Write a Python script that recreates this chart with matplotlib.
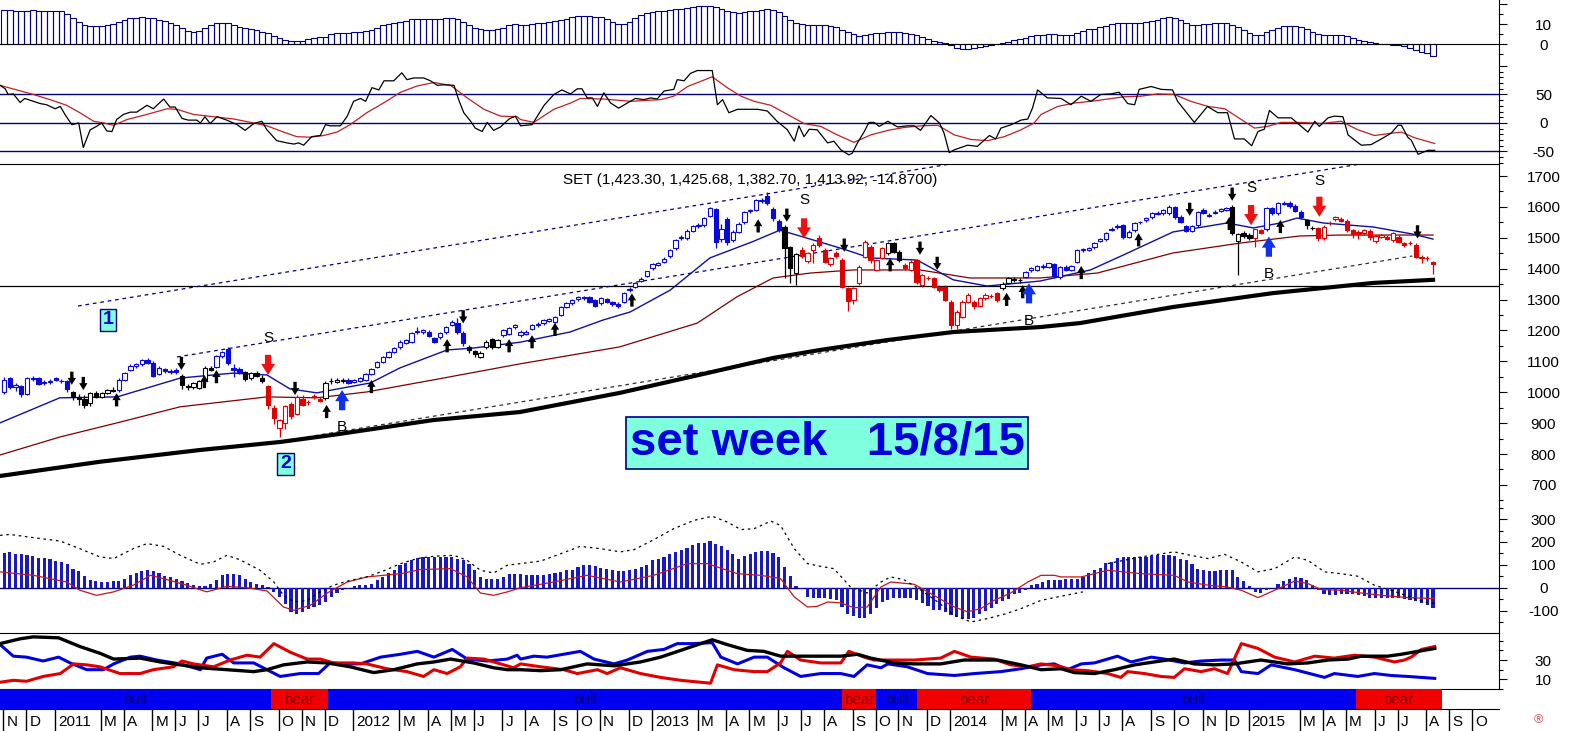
import numpy as np
import pandas as pd
import matplotlib
matplotlib.use("Agg")
import matplotlib.pyplot as plt

# ---------------- weekly SET index, Fri 5 Nov 2010 .. Fri 14 Aug 2015 ----------------
start_date = "2010-11-05"

opens = [1000,1045,1018,1020,995,1045,1046,1030,1032,1045,
         1038,1036,1002,986,977,964,999,985,997,1008,
         1006,1040,1072,1086,1090,1105,1094,1060,1074,1068,
         1072,1052,1020,1018,1014,1036,1078,1082,1116,1140,
         1078,1075,1064,1045,1062,1046,1020,950,885,900,
         963,930,978,968,988,978,980,1036,1034,1038,
         1041,1034,1038,1041,1059,1083,1099,1115,1131,1145,
         1160,1164,1194,1196,1196,1175,1178,1196,1218,1224,
         1193,1148,1132,1115,1145,1172,1148,1185,1190,1210,
         1185,1190,1204,1218,1223,1232,1228,1250,1277,1288,
         1301,1307,1307,1298,1288,1301,1291,1286,1293,1330,
         1342,1361,1376,1401,1412,1423,1441,1466,1504,1498,
         1523,1538,1541,1571,1592,1495,1560,1493,1520,1551,
         1586,1590,1620,1635,1592,1555,1536,1469,1385,1461,
         1425,1461,1498,1461,1415,1450,1428,1337,1298,1353,
         1439,1471,1396,1434,1450,1482,1455,1412,1396,1428,
         1347,1370,1369,1342,1342,1293,1218,1245,1293,1293,
         1279,1304,1312,1322,1336,1355,1365,1362,1374,1395,
         1396,1405,1407,1415,1374,1407,1396,1423,1460,1461,
         1469,1490,1495,1526,1536,1541,1502,1525,1550,1558,
         1566,1578,1579,1579,1599,1568,1538,1523,1541,1590,
         1572,1580,1588,1590,1601,1491,1517,1509,1498,1525,
         1527,1595,1579,1610,1612,1603,1585,1558,1531,1531,
         1498,1547,1560,1560,1555,1525,1520,1517,1523,1491,
         1504,1502,1493,1504,1482,1484,1477,1439,1434,1423.30]
highs = [1048,1050,1030,1024,1050,1052,1050,1040,1042,1050,
         1044,1040,1005,995,990,1000,1005,1002,1012,1016,
         1045,1066,1090,1095,1108,1110,1100,1085,1080,1075,
         1078,1060,1028,1034,1040,1085,1085,1122,1135,1148,
         1090,1082,1070,1066,1068,1055,1025,958,915,960,
         970,990,990,975,995,985,1035,1045,1046,1046,
         1046,1044,1050,1062,1078,1102,1118,1134,1145,1168,
         1174,1195,1210,1205,1202,1180,1195,1215,1233,1242,
         1198,1152,1138,1132,1168,1176,1172,1205,1210,1222,
         1200,1200,1222,1226,1238,1240,1248,1280,1292,1302,
         1312,1312,1312,1302,1308,1306,1296,1292,1325,1340,
         1357,1372,1394,1418,1422,1437,1464,1497,1510,1527,
         1542,1548,1566,1600,1598,1545,1566,1524,1550,1588,
         1594,1626,1628,1648,1600,1560,1540,1475,1452,1470,
         1455,1484,1510,1466,1438,1456,1434,1342,1342,1412,
         1492,1476,1432,1470,1486,1488,1460,1418,1428,1432,
         1384,1376,1374,1348,1346,1298,1266,1298,1320,1298,
         1308,1320,1318,1326,1356,1372,1372,1370,1394,1405,
         1412,1415,1420,1420,1410,1412,1412,1464,1468,1470,
         1485,1498,1520,1534,1545,1546,1524,1550,1556,1566,
         1584,1586,1594,1605,1604,1574,1542,1542,1588,1596,
         1580,1590,1596,1600,1606,1515,1522,1514,1530,1530,
         1600,1600,1616,1618,1618,1608,1590,1562,1538,1536,
         1540,1554,1572,1566,1560,1530,1526,1528,1528,1510,
         1512,1508,1520,1508,1488,1490,1482,1444,1440,1425.68]
lows = [995,1012,1005,985,990,1036,1024,1024,1028,1036,
        1030,1000,975,960,950,955,980,980,994,1000,
        1002,1036,1068,1080,1086,1090,1048,1055,1062,1058,
        1060,1010,1008,1012,1010,1030,1068,1078,1112,1088,
        1050,1058,1035,1040,1048,1030,945,898,855,880,
        915,925,955,960,978,968,975,1028,1030,1030,
        1028,1030,1034,1038,1055,1080,1096,1112,1128,1140,
        1155,1160,1188,1190,1178,1158,1172,1190,1214,1190,
        1150,1128,1115,1110,1140,1140,1142,1180,1186,1205,
        1180,1185,1200,1212,1218,1228,1224,1246,1272,1284,
        1296,1300,1288,1275,1284,1288,1280,1272,1288,1326,
        1338,1356,1372,1396,1408,1418,1436,1462,1494,1494,
        1518,1532,1536,1566,1468,1486,1478,1488,1515,1546,
        1580,1586,1614,1606,1556,1518,1370,1355,1348,1436,
        1418,1420,1470,1418,1410,1436,1336,1262,1285,1348,
        1435,1420,1392,1430,1446,1450,1422,1396,1392,1352,
        1342,1362,1336,1326,1294,1205,1206,1240,1288,1270,
        1275,1300,1306,1292,1330,1350,1358,1355,1370,1390,
        1392,1400,1402,1370,1368,1392,1392,1418,1455,1456,
        1465,1485,1490,1522,1530,1496,1498,1520,1545,1552,
        1562,1574,1575,1575,1562,1548,1518,1518,1536,1576,
        1568,1576,1584,1586,1508,1380,1500,1494,1470,1512,
        1522,1574,1575,1605,1598,1584,1562,1528,1524,1490,
        1494,1542,1555,1550,1520,1500,1495,1510,1492,1484,
        1498,1492,1488,1482,1470,1476,1434,1418,1425,1382.70]
closes = [1040,1018,1022,993,1045,1044,1028,1034,1038,1040,
          1035,1010,984,978,960,996,985,998,1007,1004,
          1040,1062,1085,1090,1104,1094,1053,1080,1068,1064,
          1064,1024,1018,1029,1035,1078,1072,1117,1131,1094,
          1072,1063,1042,1061,1053,1038,959,916,910,954,
          922,984,960,970,984,973,1030,1037,1041,1039,
          1031,1040,1046,1059,1074,1099,1115,1131,1142,1164,
          1170,1191,1197,1201,1182,1164,1191,1212,1229,1196,
          1159,1137,1124,1128,1164,1148,1170,1202,1207,1218,
          1196,1196,1218,1221,1234,1236,1245,1277,1288,1298,
          1309,1305,1293,1279,1304,1293,1285,1278,1320,1334,
          1353,1368,1391,1415,1418,1433,1460,1493,1498,1523,
          1538,1543,1563,1595,1485,1530,1487,1520,1546,1584,
          1590,1622,1623,1612,1563,1525,1466,1401,1448,1441,
          1450,1477,1477,1423,1434,1441,1342,1294,1337,1407,
          1488,1428,1428,1466,1482,1455,1428,1401,1423,1358,
          1380,1369,1342,1331,1299,1218,1261,1293,1315,1279,
          1304,1315,1312,1299,1352,1369,1366,1362,1390,1401,
          1408,1410,1417,1376,1407,1396,1408,1460,1463,1466,
          1482,1495,1517,1530,1538,1502,1520,1547,1552,1563,
          1581,1581,1590,1601,1568,1552,1523,1538,1584,1581,
          1574,1584,1592,1595,1514,1512,1506,1498,1527,1517,
          1595,1579,1612,1614,1603,1588,1568,1541,1531,1498,
          1536,1549,1566,1556,1525,1512,1512,1525,1502,1506,
          1509,1497,1517,1487,1477,1484,1439,1434,1434,1413.92]

# candle colour runs (first week of each run)
color_start = [0,12,20,31,37,42,46,56,60,81,87,136,139,154,157,174,178,214,218,220,227,229]
color_name = ['blue','black','blue','black','blue','black','red','black','blue','black',
              'blue','black','red','black','red','black','blue','black','red','blue',
              'black','red']

# moving averages, sampled (week index, value)
ma10_wk = [-0.7,9.7,19.7,30.7,39.9,45.8,49.8,54.5,57.3,63.8,69.0,77.2,81.7,89.9,98.6,104.4,109.1,
           116.1,123.0,130.5,135.2,139.2,146.2,150.9,159.1,165.4,171.3,180.5,189.3,195.0,203.7,
           213.1,217.7,222.4,225.3,229.9,238.6,245.5,249.0]
ma10 = [901,982,985,1046,1062,1056,1011,998,1008,1030,1079,1137,1143,1162,1195,1234,1260,
        1331,1435,1488,1525,1503,1464,1435,1428,1364,1344,1360,1396,1444,1519,
        1548,1532,1548,1564,1548,1535,1512,1496]
ma30_wk = [-0.7,9.7,19.7,30.7,45.8,54.5,63.2,74.8,89.9,107.3,120.8,127.7,134.0,140.5,148.0,
           159.6,168.3,180.5,190.5,203.7,215.4,225.8,232.8,249.0]
ma30 = [797,855,901,953,985,982,1001,1040,1092,1147,1224,1309,1370,1386,1396,
        1396,1370,1370,1386,1451,1483,1506,1509,1509]
ma_long_wk = [-0.7,16.7,34.1,48.1,57.3,74.8,89.9,107.3,122.5,134.0,142.2,153.9,165.4,180.5,
              187.5,203.7,221.1,238.6,249.0]
ma_long = [729,775,813,839,862,910,936,998,1062,1111,1137,1169,1195,1211,
           1224,1276,1321,1354,1364]

# top momentum histogram (weekly)
mom = [17,17,16.5,16.5,16.5,17,16.5,16.5,16.5,16.5,
       16.5,15,13,11,9.3,9,9,9,9.5,9.8,
       10.8,12,12.8,13.2,13.4,13.2,12.8,12.2,11.5,10.5,
       9.5,8,6.5,6,6.3,7.8,9.5,10.5,10.7,10.5,
       9.3,8.3,7.8,7.5,7,6.2,5.4,4.2,3,2,
       1.5,1.5,1.7,2.5,3,3.4,3.6,4.8,5.5,5.6,
       5.7,5.8,6.1,6.3,7,8.2,9.3,10,10.6,11,
       11.5,12.3,12.4,12.4,12.3,12.3,12.5,13.1,13.1,12.5,
       11.2,9.5,8,7.3,7.2,7.2,7.4,8.2,9.5,9.8,
       9.4,9.4,9.8,10.3,10.6,10.8,11.5,12.1,12.6,13.3,
       14,14.2,14.1,13.5,13.3,12.3,11,10,10.2,11.2,
       12.8,14.5,15.5,16,16.4,16.4,16.8,17.3,17.5,17.8,
       18.5,18.9,18.9,18.9,18.5,17.5,16.7,16.2,15.7,16,
       16.5,16.7,17.2,17.4,17,15.8,14,12,10.6,10,
       9.7,9.7,9.7,9.7,9,8.3,7.2,6.1,4.8,3.8,
       4.5,5.2,5.6,5.7,5.8,6,6,5.6,5.2,4.4,
       3.3,2.3,1.5,1,0.3,-0.6,-1.8,-2.5,-2.4,-2.1,
       -1.7,-1.1,-0.6,-0.2,0.3,1,2,2.6,3.2,3.8,
       4.3,4.4,4.8,5.2,4.6,4.4,4.4,5.5,6.6,7.4,
       7.7,8.4,9.2,9.8,10.5,10.7,10.5,10.5,10.5,11,
       11.6,12.2,12.8,13.3,13.2,12,10.5,9.7,9.7,9.8,
       9.9,10.3,10.6,10.5,9.5,8.5,7,5.3,4.5,4.4,
       5.8,7.2,8.2,8.8,9,9,8.3,7.3,5.8,4.8,
       4.3,4.3,4.3,4.5,4,2.8,2.2,1.6,1,0.4,
       0,0,-0.3,-0.4,-1,-2,-3,-4.2,-4.7,-5.9]

# oscillator panel (sampled)
osc_k_wk = [-0.7,0.2,0.7,1.6,2.8,3.6,5.1,6.3,7.4,8.9,9.8,10.6,11.8,13.0,13.8,15.0,16.1,17.0,17.9,18.8,
            19.6,20.8,22.0,23.1,24.9,26.0,27.8,28.9,29.8,31.0,32.1,33.6,34.2,35.0,35.9,37.1,38.8,40.6,42.0,43.5,
            44.9,45.8,47.5,49.3,50.5,51.3,52.2,53.6,55.1,56.0,56.8,58.6,59.8,60.9,62.1,63.0,64.1,65.3,66.2,67.9,
            69.3,70.2,71.4,73.1,74.3,75.5,76.6,78.4,79.2,80.1,81.3,82.1,83.3,84.2,85.3,86.5,88.0,89.1,
            90.0,92.0,94.1,95.8,97.2,98.7,99.9,100.7,101.6,102.5,103.4,104.5,105.7,107.1,108.6,110.0,111.5,112.7,113.8,115.0,
            116.7,117.3,118.5,119.6,120.8,123.4,124.3,125.2,126.3,127.8,129.5,131.3,133.0,134.7,136.5,137.7,138.5,139.4,140.3,141.7,
            143.5,144.6,145.8,147.2,147.8,148.7,149.9,150.7,151.6,152.5,154.0,155.7,157.4,158.6,159.7,161.5,163.0,163.8,164.7,165.6,
            167.9,169.6,171.7,172.8,173.7,175.5,177.2,178.4,179.2,180.1,
            181.8,184.2,185.9,187.7,189.4,191.1,192.9,194.3,195.8,197.0,197.8,199.9,201.6,203.6,204.5,206.3,207.4,209.7,211.5,213.2,
            214.4,216.1,217.4,218.5,219.6,220.5,222.0,224.3,227.2,228.4,229.2,230.7,231.8,233.3,234.2,236.5,238.2,240.0,241.7,242.9,
            243.5,244.6,245.2,246.4,248.1,249.3]
osc_k = [66,60,50,51,36,43,38,34,32,25,29,15,-3,0,-43,-12,-6,0,-14,-15,
         6,15,19,19,31,25,42,28,28,8,5,5,0,11,-1,11,5,-3,-13,-1,
         3,-12,-31,-35,-37,-35,-39,-24,-22,-3,-5,-5,12,38,43,38,62,58,74,74,
         88,76,79,79,74,66,67,66,41,18,3,-9,-15,1,-13,-7,7,12,
         -5,-3,31,50,58,51,60,60,44,44,29,53,35,26,35,43,41,44,42,56,
         59,76,74,87,92,92,32,41,18,24,24,24,21,3,-12,-32,-5,-24,-11,-12,
         -35,-32,-47,-56,-53,-35,-15,1,1,-6,3,-7,-5,-5,-13,13,0,-18,-52,-47,
         -39,-41,-22,-28,-9,-3,5,7,26,58,
         44,43,32,47,38,50,51,54,34,32,59,64,59,58,38,15,1,29,18,18,
         -28,-28,-40,-15,-11,22,9,9,-16,3,-6,9,12,11,-21,-39,-38,-28,-18,-4,
         -4,-25,-30,-55,-48,-48]
osc_d_wk = [-0.7,2.2,5.1,8.0,10.9,13.2,15.6,17.3,19.1,21.4,24.9,28.4,30.1,33.0,36.5,40.0,43.5,45.8,48.7,51.0,
            53.4,55.7,58.0,60.3,63.2,66.1,69.1,72.0,74.9,77.8,80.7,83.6,86.5,89.4,
            90.0,92.3,95.8,98.7,100.4,104.5,109.2,114.4,116.7,119.1,123.4,126.0,128.4,130.7,133.6,136.5,139.4,142.3,145.2,148.1,
            151.0,154.0,156.8,159.8,162.7,165.6,168.5,171.4,174.3,177.2,179.5,180.7,
            183.6,186.5,189.4,192.3,195.2,198.1,201.0,203.9,206.8,209.8,212.7,215.6,217.9,220.2,222.5,226.0,229.5,233.0,235.9,238.8,
            241.7,243.5,245.8,249.3]
osc_d = [66,58,50,41,31,18,3,0,-4,6,15,25,24,15,11,7,0,-5,-16,-24,
         -25,-22,-16,-3,18,35,54,65,71,66,44,24,12,11,
         6,1,24,35,43,42,38,41,47,64,81,62,47,38,31,15,-1,-6,-21,-34,
         -21,-13,-8,-5,-4,-21,-29,-31,-24,-12,0,15,
         29,35,38,42,46,47,51,50,38,29,25,6,-9,-6,1,1,-1,3,-12,-22,
         -18,-16,-26,-36]

# MACD-style panel
macd_hist = [152,157,149,146,142,138,132,130,125,117,
             113,103,84,74,51,33,29,26,26,29,
             30,41,55,65,74,77,74,65,51,48,
             41,30,22,12,7,10,16,36,55,62,
             59,55,41,26,19,12,4,-17,-39,-68,
             -104,-114,-104,-90,-83,-75,-61,-39,-22,-10,
             -3,7,12,12,16,33,48,65,80,99,
             109,120,132,135,135,135,135,135,135,128,
             123,106,77,48,41,41,41,48,59,62,
             62,58,58,58,58,62,65,70,80,80,
             91,99,99,94,88,84,80,74,74,77,
             84,91,99,123,128,135,149,157,167,175,
             186,196,196,204,190,181,167,146,128,138,
             146,157,161,161,152,135,91,51,7,-3,
             -39,-42,-42,-42,-46,-51,-83,-112,-123,-129,
             -129,-114,-86,-61,-51,-42,-42,-42,-42,-51,
             -65,-80,-94,-97,-104,-119,-126,-133,-133,-129,
             -114,-100,-86,-71,-57,-46,-28,-22,-7,12,
             16,26,33,36,36,38,41,41,48,65,
             77,88,109,113,130,135,135,135,135,135,
             138,142,142,142,138,128,120,103,84,77,
             74,74,77,80,77,48,30,7,-17,-22,
             -10,1,16,30,41,48,45,33,12,-10,
             -25,-32,-32,-28,-28,-25,-32,-36,-42,-42,
             -42,-42,-42,-42,-46,-51,-57,-65,-75,-86]
macd_env_wk = [-0.7,1.0,5.1,9.8,13.2,16.7,19.1,22.5,24.9,27.8,30.7,34.2,36.5,38.8,41.1,44.6,47.0,48.7,50.5,52.8,
               55.1,57.4,60.3,63.2,66.1,69.1,72.0,74.9,78.4,80.7,83.0,85.3,87.7,90.0,
               93.5,97.0,100.4,103.9,107.4,109.8,113.2,116.7,120.2,123.4,126.0,128.4,130.7,133.6,135.3,137.7,
               140.0,142.3,144.6,147.5,150.4,152.8,154.5,156.8,159.8,162.7,165.6,168.5,171.4,174.3,177.2,180.7,
               184.2,188.0,190.0,192.3,198.1,203.9,206.8,209.8,212.7,215.6,218.5,221.4,224.9,227.2,230.1,233.0,
               235.9,238.8,241.7,244.6,247.5,249.3]
macd_env = [229,233,219,204,171,135,128,171,193,181,142,103,113,142,123,77,26,-32,-61,-54,
            -17,12,33,48,74,106,128,138,142,120,77,65,99,106,
            117,149,181,171,157,167,210,258,294,312,287,254,258,291,272,171,
            106,94,84,4,-22,26,48,36,-10,-61,-119,-148,-133,-114,-90,-54,
            -36,-17,np.nan,106,135,157,142,128,146,113,70,84,135,120,70,62,
            51,12,-10,-36,-61,-68]
macd_sig_wk = [-0.7,5.1,10.9,13.2,16.1,19.1,22.5,25.5,28.4,31.8,35.3,38.8,42.3,45.8,48.7,50.5,53.4,56.3,59.8,63.2,
               69.1,72.5,77.8,80.7,83.0,85.3,87.7,90.0,
               95.8,101.6,107.4,113.2,119.1,122.5,127.8,131.8,135.3,137.7,140.0,141.7,143.5,145.8,148.1,150.4,
               152.8,154.5,158.6,161.5,165.6,167.9,170.2,172.5,175.4,178.4,180.7,
               183.0,184.2,187.7,192.3,198.1,203.9,206.3,209.8,213.2,215.6,218.5,221.4,224.9,227.2,229.5,233.0,
               236.5,240.0,244.6,249.3]
macd_sig = [70,55,26,-10,-32,-17,12,55,36,12,-17,7,1,-13,-83,-97,-75,-22,26,48,
            62,80,84,48,-22,-32,-17,1,
            26,55,26,55,106,106,62,55,41,-39,-83,-80,-61,-65,-86,-83,
            4,26,16,-25,-83,-104,-90,-54,-22,26,55,
            55,48,48,77,62,55,26,12,4,-10,-42,-10,30,19,-7,-10,
            -22,-32,-42,-46]

# DMI / ADX panel
adx_wk = [-0.7,2.8,5.1,9.5,13.2,16.7,19.1,23.7,27.2,30.7,34.2,38.8,43.5,45.8,48.7,52.8,56.3,60.3,64.4,67.9,
          72.0,74.9,77.8,81.8,85.3,87.7,90.0,
          93.5,97.0,101.6,106.3,110.9,114.4,117.9,121.4,123.4,126.0,129.5,132.4,135.3,142.3,145.8,148.7,151.0,
          155.1,158.6,163.2,167.3,173.1,177.2,180.7,
          184.2,186.5,190.0,193.5,197.0,200.4,203.9,207.4,210.9,214.4,219.0,223.7,227.2,230.7,234.2,236.5,
          241.1,243.5,246.4,249.3]
adx = [47,52,54,53,44,37,31,32,28,25,22,20,18,20,25,28,27,23,17,20,
       26,28,31,27,22,20,20,
       19,20,26,24,28,33,40,47,51,46,40,39,34,34,34,36,32,
       27,26,26,30,30,25,20,
       21,17,16,20,25,28,31,26,25,26,30,26,27,30,31,34,
       34,36,39,42]
dip_wk = [-0.7,1.6,3.9,6.8,9.5,11.5,14.4,17.3,19.1,22.0,23.7,26.6,30.7,34.2,35.3,38.0,40.0,43.5,45.8,48.1,
          51.6,54.8,56.8,59.2,62.1,65.6,69.1,72.0,74.9,78.1,80.7,84.2,87.7,89.4,
          90.0,92.3,94.6,97.5,100.4,102.8,106.3,108.6,112.1,115.0,117.3,120.2,123.4,124.9,127.8,130.7,
          133.0,135.9,138.8,142.3,145.8,148.1,150.4,152.8,154.0,157.4,160.9,165.6,169.1,173.7,177.2,180.7,
          183.0,185.3,187.7,190.0,194.0,196.4,199.9,202.2,205.7,208.6,212.1,214.4,215.6,218.5,220.8,224.9,
          230.1,231.8,235.9,238.8,241.7,244.6,249.3]
dip = [46,34,33,29,33,27,20,20,26,33,34,30,26,20,32,36,27,27,20,13,
       16,16,27,26,26,33,36,39,33,41,31,29,31,35,
       31,34,33,36,39,31,26,30,39,41,47,47,48,33,26,33,
       33,22,13,16,16,13,25,22,26,23,16,14,16,18,21,25,
       26,20,26,27,34,28,33,31,27,29,30,30,18,16,25,20,
       12,16,13,16,14,13,11]
dim_wk = [-0.7,1.6,3.9,6.8,9.8,12.1,14.4,16.7,20.2,23.7,26.0,29.5,31.0,33.0,36.5,39.4,42.3,44.6,47.0,49.9,
          52.8,55.1,57.4,60.9,63.2,66.7,70.2,73.1,74.9,77.2,79.5,80.7,83.6,86.5,88.8,90.0,
          93.5,97.5,99.9,103.4,105.1,107.4,110.9,114.4,117.9,123.1,124.3,127.2,130.7,133.0,135.3,136.5,
          138.8,142.3,145.8,147.2,149.9,151.6,158.6,163.2,165.6,168.5,172.5,175.4,178.4,180.7,
          183.6,185.9,188.8,192.3,194.6,195.8,198.7,201.6,203.9,205.7,208.6,210.9,213.2,215.6,218.5,221.4,
          224.9,228.4,231.8,235.3,238.8,242.3,244.0,245.2,247.0,249.3]
dim = [7,9,8,13,16,26,25,23,16,16,20,23,29,26,23,30,35,33,47,38,
       31,31,27,27,26,21,18,13,20,16,23,32,31,26,22,26,
       23,20,16,20,16,22,16,12,9,6,25,20,18,18,27,39,
       30,27,27,39,33,30,30,32,39,33,31,25,23,26,
       24,20,19,16,12,18,16,13,12,21,18,21,16,47,42,33,
       28,34,32,35,33,28,30,33,41,44]

# bull / bear regimes (week boundaries)
regime_edges = [-1, 46.5, 56.5, 146, 152, 159, 179, 235.5, 250.5]
regime_names = ['bull', 'bear', 'bull', 'bear', 'bull', 'bear', 'bull', 'bear']

# signal arrows: week, price, direction
black_arrow_wk = [11.8,13.8,19.6,30.9,34.9,37.0,50.7,56.2,64.0,77.2,80.0,88.0,92.0,96.0,109.4,131.4,136.4,
                  146.4,154.4,159.6,162.6,174.7,177.5,187.7,197.7,206.6,213.5,214.0,222.4,246.3]
black_arrow_px = [1024,1007,997,1072,1056,1072,991,959,1040,1172,1223,1172,1185,1225,1320,1560,1552,
                  1455,1434,1445,1396,1322,1347,1409,1515,1571,1568,1620,1558,1498]
black_arrow_dir = ['d','d','u','d','u','u','d','u','u','u','d','u','u','u','u','u','d',
                   'd','u','d','d','u','u','u','u','d','u','d','u','d']
sell_wk = [46.0, 139.4, 217.3, 229.2]
sell_px = [1056, 1498, 1541, 1568]
buy_wk = [58.9, 178.6, 220.4]
buy_px = [1007, 1353, 1504]

# S / B marks
s_wk, s_px = [46.0, 139.4, 217.3, 229.2], [1175, 1622, 1660, 1684]
b_wk, b_px = [58.9, 178.6, 220.4], [889, 1231, 1383]

# trend lines (week, price) end points
trend_lines = [((12.88, 1279.3), (164.85, 1738.8)),
               ((30.13, 1114.3), (236.3, 1738.8)),
               ((52.79, 855.4), (245.4, 1441.1))]
support_level = 1344

# ------------------------------------------------------------------------------------
plt.rcParams['font.family'] = ['Liberation Sans', 'DejaVu Sans']
plt.rcParams['axes.linewidth'] = 0.8

W, H = 1570, 731
XR = 1499
XMIN, XMAX = -0.715, 260.5
NAVY = '#000080'
BLUE = '#0a0ad8'
RED = '#e00000'
AQUA = '#80ffdf'

fig = plt.figure(figsize=(W / 100, H / 100), dpi=100)


def add_panel(y0, y1):
    ax = fig.add_axes([0, 1 - y1 / H, XR / W, (y1 - y0) / H])
    ax.set_xlim(XMIN, XMAX)
    ax.set_facecolor('none')
    for s in ('left', 'top', 'bottom'):
        ax.spines[s].set_visible(False)
    ax.set_xticks([])
    return ax


def right_ticks(ax, major, labels, minor):
    ax.yaxis.tick_right()
    ax.set_yticks(major, labels=labels)
    ax.set_yticks(minor, minor=True)
    ax.tick_params(axis='y', which='major', length=6, width=0.8, pad=26, labelsize=11)
    ax.tick_params(axis='y', which='minor', length=3, width=0.8)
    for t in ax.get_yticklabels():
        t.set_horizontalalignment('center')


x = np.arange(len(closes))

# --- top momentum histogram
ax1 = add_panel(0, 62)
ax1.set_ylim(-9, 22)
ax1.bar(x, mom, width=1.0, fill=False, edgecolor=NAVY, linewidth=0.8)
ax1.axhline(0, color='black', lw=0.8)
right_ticks(ax1, [0, 10, 20], ['0', '10', ''], [-5, 5, 15])

# --- oscillator
ax2 = add_panel(62, 164)
ax2.set_ylim(-72, 107)
for lvl in (50, 0, -50):
    ax2.axhline(lvl, color=NAVY, lw=1.0)
ax2.plot(osc_d_wk, osc_d, color='#c02020', lw=0.9)
ax2.plot(osc_k_wk, osc_k, color='black', lw=0.9)
right_ticks(ax2, [-50, 0, 50, 100], ['-50', '0', '50', ''], list(range(-70, 101, 10)))

# --- price panel
ax3 = add_panel(164, 505)
ax3.spines['top'].set_visible(True)
ax3.set_ylim(635, 1739)
right_ticks(ax3, list(range(700, 1701, 100)), [str(v) for v in range(700, 1701, 100)],
            list(range(650, 1740, 50)))

ax3.axhline(support_level, color='black', lw=0.9, zorder=1)
for k, ((w0, p0), (w1, p1)) in enumerate(trend_lines):
    ax3.plot([w0, w1], [p0, p1], color=NAVY if k < 2 else '#303030', lw=0.9,
             ls=(0, (3, 3)), zorder=1)
ax3.plot(ma_long_wk, ma_long, color='black', lw=3.0, zorder=1.5)
ax3.plot(ma30_wk, ma30, color='#800000', lw=0.9, zorder=1.6)
ax3.plot(ma10_wk, ma10, color='#1010a0', lw=1.0, zorder=1.7)

palette = {'blue': BLUE, 'black': '#000000', 'red': RED}
run_idx = np.searchsorted(color_start, x, side='right') - 1
cols = [palette[color_name[r]] for r in run_idx]
o = np.array(opens, float)
c = np.array(closes, float)
faces = ['white' if cc >= oo else col for oo, cc, col in zip(o, c, cols)]
ax3.vlines(x, lows, highs, colors=cols, lw=0.9, zorder=3)
ax3.bar(x, np.abs(c - o), bottom=np.minimum(o, c), width=0.75, color=faces,
        edgecolor=cols, linewidth=0.8, zorder=4)


def arrow(ax, wk, price, up, color, big):
    if big:
        style, length = 'simple,head_length=0.8,head_width=1.0,tail_width=0.45', 14.5
    else:
        style, length = 'simple,head_length=0.5,head_width=0.6,tail_width=0.24', 9.5
    ax.annotate('', xy=(wk, price), xytext=(0, -length if up else length),
                textcoords='offset points', zorder=6,
                arrowprops=dict(arrowstyle=style, color=color, lw=0,
                                shrinkA=0, shrinkB=0, mutation_scale=10))


for wk, p, d in zip(black_arrow_wk, black_arrow_px, black_arrow_dir):
    arrow(ax3, wk, p, d == 'u', 'black', False)
for wk, p in zip(sell_wk, sell_px):
    arrow(ax3, wk, p, False, '#ee1111', True)
for wk, p in zip(buy_wk, buy_px):
    arrow(ax3, wk, p, True, '#1030ee', True)

for wk, p in zip(s_wk, s_px):
    ax3.text(wk, p, 'S', fontsize=11, ha='center', va='center', zorder=6)
for wk, p in zip(b_wk, b_px):
    ax3.text(wk, p, 'B', fontsize=11, ha='center', va='center', zorder=6)

ax3.text(0.5003, 0.953, 'SET (1,423.30, 1,425.68, 1,382.70, 1,413.92, -14.8700)',
         transform=ax3.transAxes, fontsize=11, ha='center', va='center', zorder=7)

box = dict(boxstyle='square,pad=0.15', facecolor=AQUA, edgecolor=NAVY, lw=1.0)
ax3.text(18.1, 1234, '1', fontsize=14, fontweight='bold', color='#0000cc',
         ha='center', va='center', bbox=box, zorder=7)
ax3.text(49.0, 768, '2', fontsize=14, fontweight='bold', color='#0000cc',
         ha='center', va='center', bbox=box, zorder=7)
ax3.text(143.4, 836, 'set week   15/8/15', fontsize=34, fontweight='bold', color='#0000dd',
         ha='center', va='center', zorder=7,
         bbox=dict(boxstyle='square,pad=0.08', facecolor=AQUA, edgecolor=NAVY, lw=1.2))

# --- MACD panel
ax4 = add_panel(505, 633)
ax4.spines['bottom'].set_visible(True)
ax4.set_ylim(-196, 361)
ax4.axhline(0, color=NAVY, lw=1.0)
ax4.bar(x, macd_hist, width=0.55, color='#1818c8', zorder=2)
ax4.plot(macd_sig_wk, macd_sig, color='#c01818', lw=0.9, zorder=3)
ax4.plot(macd_env_wk, macd_env, color='black', lw=0.9, ls=(0, (2, 3)), zorder=3)
right_ticks(ax4, [-100, 0, 100, 200, 300], ['-100', '0', '100', '200', '300'],
            [-150, -50, 50, 150, 250, 350])

# --- DMI panel
ax5 = add_panel(633, 689)
ax5.spines['bottom'].set_visible(True)
ax5.set_ylim(0, 58)
ax5.plot(dip_wk, dip, color='#0000dd', lw=2.2)
ax5.plot(dim_wk, dim, color='#e00000', lw=2.2)
ax5.plot(adx_wk, adx, color='black', lw=2.4)
right_ticks(ax5, [10, 30], ['10', '30'], [0, 20, 40, 50])

# --- bull / bear strip
ax6 = add_panel(689, 709)
ax6.spines['right'].set_visible(False)
ax6.set_ylim(0, 1)
ax6.set_yticks([])
for a, b, name in zip(regime_edges[:-1], regime_edges[1:], regime_names):
    ax6.axvspan(a, b, color='#0000f0' if name == 'bull' else '#f00000', lw=0)
    ax6.text((a + b) / 2, 0.45, name, ha='center', va='center', fontsize=11,
             color='#000070' if name == 'bull' else '#900000')

# --- month row
ax7 = add_panel(709, 731)
ax7.spines['right'].set_visible(False)
ax7.spines['top'].set_visible(True)
ax7.set_ylim(0, 1)
ax7.set_yticks([])
fridays = pd.date_range(start_date, periods=262, freq='7D')
letters = 'JFMAMJJASOND'
for i, d in enumerate(fridays):
    if i > 0 and fridays[i - 1].month == d.month:
        continue
    if d.month == 2 or i > XMAX:
        continue
    label = str(d.year) if d.month == 1 else letters[d.month - 1]
    ax7.axvline(i - 0.15, color='black', lw=1.0)
    ax7.annotate(label, xy=(i - 0.15, 0.42), xytext=(2.2, 0), textcoords='offset points',
                 ha='left', va='center', fontsize=11)

fig.text(1538 / W, 1 - 720 / H, '\u00ae', color='#e05050', fontsize=9, ha='center', va='center')

fig.savefig('out.png', dpi=100)
